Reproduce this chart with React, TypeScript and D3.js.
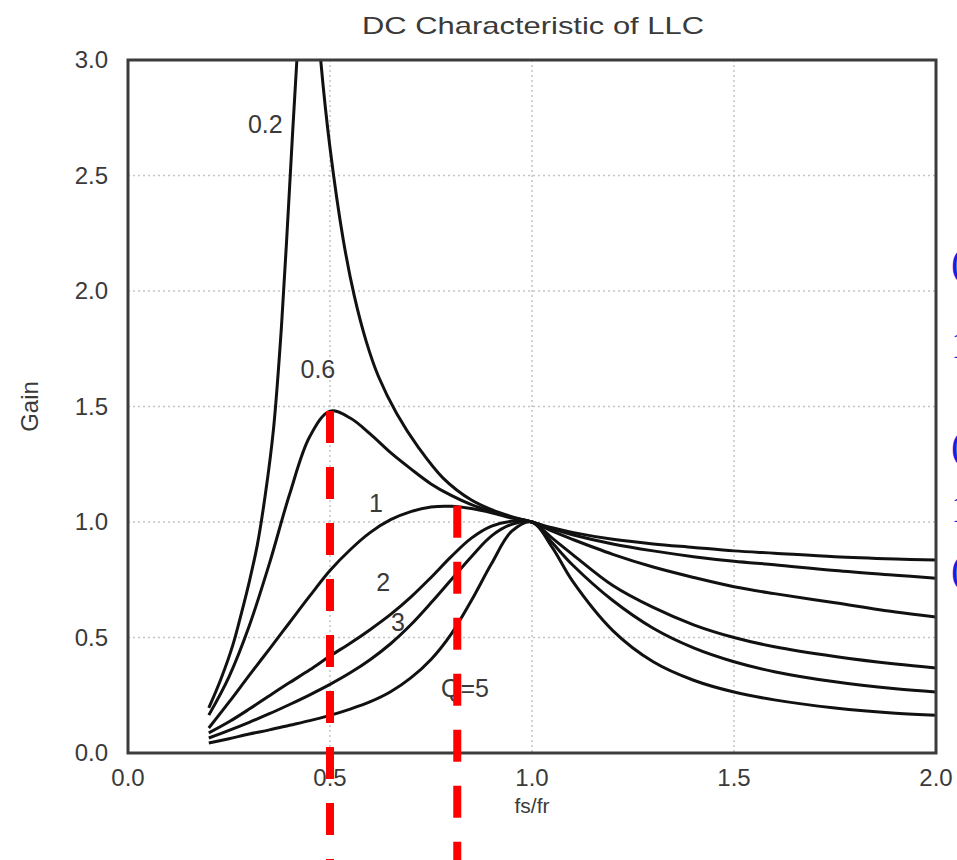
import React from 'react';
import * as d3 from 'd3';

const width = 957;
const height = 860;
const margin = { top: 60, right: 21, bottom: 107, left: 128 };

const xTicks = [0, 0.5, 1.0, 1.5, 2.0];
const yTicks = [0, 0.5, 1.0, 1.5, 2.0, 2.5, 3.0];
const gridX = [0.5, 1.0, 1.5];
const gridY = [0.5, 1.0, 1.5, 2.0, 2.5];

// [fs/fr, gain], one list per Q
const curveQ02 = [
  [0.2, 0.195], [0.23, 0.32], [0.26, 0.47], [0.28, 0.6], [0.3, 0.74], [0.32, 0.9],
  [0.34, 1.12], [0.36, 1.4], [0.38, 1.85], [0.4, 2.45], [0.418, 3.0], [0.447, 3.7],
  [0.477, 3.0], [0.5, 2.62], [0.533, 2.22], [0.56, 1.98], [0.59, 1.78], [0.62, 1.63],
  [0.665, 1.47], [0.72, 1.32], [0.78, 1.19], [0.85, 1.095], [0.92, 1.04], [1.0, 1.0],
  [1.05, 0.975], [1.1, 0.955], [1.2, 0.925], [1.3, 0.905], [1.4, 0.89], [1.5, 0.875],
  [1.6, 0.865], [1.75, 0.85], [1.9, 0.84], [2.0, 0.835],
];
const curveQ06 = [
  [0.2, 0.164], [0.25, 0.33], [0.3, 0.55], [0.35, 0.82], [0.4, 1.12], [0.45, 1.37],
  [0.5, 1.48], [0.55, 1.45], [0.6, 1.38], [0.65, 1.3], [0.7, 1.23], [0.75, 1.165],
  [0.8, 1.115], [0.85, 1.075], [0.9, 1.045], [0.95, 1.02], [1.0, 1.0],
  [1.05, 0.97], [1.1, 0.945], [1.2, 0.905], [1.3, 0.875], [1.4, 0.85], [1.5, 0.83],
  [1.6, 0.815], [1.75, 0.79], [1.9, 0.77], [2.0, 0.757],
];
const curveQ1 = [
  [0.2, 0.108], [0.25, 0.22], [0.3, 0.336], [0.35, 0.45], [0.4, 0.565], [0.45, 0.68],
  [0.5, 0.79], [0.55, 0.88], [0.6, 0.955], [0.65, 1.01], [0.7, 1.045], [0.75, 1.065],
  [0.8, 1.068], [0.85, 1.058], [0.9, 1.04], [0.95, 1.017], [1.0, 1.0],
  [1.05, 0.96], [1.1, 0.925], [1.2, 0.86], [1.3, 0.805], [1.4, 0.76], [1.5, 0.72],
  [1.6, 0.69], [1.75, 0.65], [1.9, 0.61], [2.0, 0.589],
];
const curveQ2 = [
  [0.2, 0.087], [0.25, 0.135], [0.3, 0.19], [0.35, 0.248], [0.4, 0.305], [0.45, 0.36],
  [0.5, 0.42], [0.55, 0.475], [0.6, 0.535], [0.65, 0.6], [0.7, 0.675], [0.75, 0.76],
  [0.8, 0.85], [0.85, 0.93], [0.9, 0.982], [0.95, 1.003], [1.0, 1.0],
  [1.05, 0.93], [1.1, 0.86], [1.2, 0.725], [1.3, 0.63], [1.4, 0.555], [1.5, 0.5],
  [1.6, 0.46], [1.75, 0.418], [1.9, 0.385], [2.0, 0.368],
];
const curveQ3 = [
  [0.2, 0.065], [0.25, 0.098], [0.3, 0.133], [0.35, 0.17], [0.4, 0.21], [0.45, 0.252],
  [0.5, 0.297], [0.55, 0.347], [0.6, 0.405], [0.65, 0.473], [0.7, 0.555], [0.75, 0.65],
  [0.8, 0.75], [0.85, 0.85], [0.9, 0.94], [0.95, 0.99], [1.0, 1.0],
  [1.05, 0.91], [1.1, 0.815], [1.2, 0.66], [1.3, 0.54], [1.4, 0.455], [1.5, 0.395],
  [1.6, 0.352], [1.75, 0.308], [1.9, 0.278], [2.0, 0.264],
];
const curveQ5 = [
  [0.2, 0.043], [0.25, 0.062], [0.3, 0.082], [0.35, 0.1], [0.4, 0.12], [0.45, 0.14],
  [0.5, 0.163], [0.55, 0.19], [0.6, 0.222], [0.65, 0.265], [0.7, 0.325], [0.75, 0.405],
  [0.8, 0.515], [0.85, 0.66], [0.9, 0.82], [0.95, 0.96], [1.0, 1.0],
  [1.05, 0.89], [1.1, 0.745], [1.2, 0.53], [1.3, 0.395], [1.4, 0.315], [1.5, 0.264],
  [1.6, 0.23], [1.75, 0.195], [1.9, 0.172], [2.0, 0.163],
];

const qLabels = ['0.2', '0.6', '1', '2', '3', 'Q=5'];

// red dashed markers: fs/fr and the gain where they start
const markerFs = [0.5, 0.815];
const markerGain = [1.48, 1.07];

// cut-off blue text at the right edge
const sideText = ['(', '1', '(', '1', '('];

const font = '"Liberation Sans", Arial, Helvetica, sans-serif';
const textColor = '#3a3a3a';

export default function App() {
  const x = d3.scaleLinear().domain([0, 2]).range([margin.left, width - margin.right]);
  const y = d3.scaleLinear().domain([0, 3]).range([height - margin.bottom, margin.top]);

  const line = d3.line<number[]>()
    .x(d => x(d[0]))
    .y(d => y(d[1]))
    .curve(d3.curveCatmullRom.alpha(0.5));

  const curves = [curveQ02, curveQ06, curveQ1, curveQ2, curveQ3, curveQ5];
  // label spots in data units, next to each curve
  const labelAt = [[0.34, 2.72], [0.47, 1.66], [0.614, 1.08], [0.632, 0.74], [0.668, 0.565], [0.834, 0.28]];
  const sideY = [276, 358, 459, 522, 583];

  const x0 = x(0), x1 = x(2), y0 = y(0), y1 = y(3);

  return (
    <svg width={width} height={height} style={{ position: 'absolute', left: 0, top: 0, background: '#fff' }}>
      <defs>
        <clipPath id="plot">
          <rect x={x0} y={y1} width={x1 - x0} height={y0 - y1} />
        </clipPath>
      </defs>
      <rect width={width} height={height} fill="#fff" />

      {/* grid */}
      <g stroke="#c4c4c4" strokeWidth={1.5} strokeDasharray="2 3">
        {gridX.map(v => <line key={'gx' + v} x1={x(v)} x2={x(v)} y1={y1} y2={y0} />)}
        {gridY.map(v => <line key={'gy' + v} x1={x0} x2={x1} y1={y(v)} y2={y(v)} />)}
      </g>

      {/* curves */}
      <g clipPath="url(#plot)" fill="none" stroke="#111" strokeWidth={3} strokeLinejoin="round">
        {curves.map((c, i) => <path key={i} d={line(c) || ''} />)}
      </g>

      {/* frame */}
      <rect x={x0} y={y1} width={x1 - x0} height={y0 - y1} fill="none" stroke="#3c3c3c" strokeWidth={3} />

      {/* curve labels */}
      <g fontFamily={font} fontSize={25} fill={textColor} textAnchor="middle">
        {qLabels.map((t, i) => (
          <text key={t} x={x(labelAt[i][0])} y={y(labelAt[i][1])} dy="0.35em">{t}</text>
        ))}
      </g>

      {/* red dashed markers */}
      <g stroke="#ff0000" strokeWidth={8} strokeDasharray="32 24">
        {markerFs.map((f, i) => (
          <line key={f} x1={x(f)} x2={x(f)} y1={y(markerGain[i])} y2={height} />
        ))}
      </g>

      {/* axes labels */}
      <g fontFamily={font} fontSize={24} fill={textColor}>
        {xTicks.map(v => (
          <text key={'xt' + v} x={x(v)} y={y0 + 25} dy="0.35em" textAnchor="middle">{v.toFixed(1)}</text>
        ))}
        {yTicks.map(v => (
          <text key={'yt' + v} x={x0 - 20} y={y(v)} dy="0.35em" textAnchor="end">{v.toFixed(1)}</text>
        ))}
        <text x={(x0 + x1) / 2} y={y0 + 53} dy="0.35em" textAnchor="middle" fontSize={21}>fs/fr</text>
        <text transform={`translate(30, ${(y0 + y1) / 2}) rotate(-90)`} dy="0.35em" textAnchor="middle">Gain</text>
      </g>

      {/* title */}
      <text x={533} y={26} dy="0.35em" textAnchor="middle" fontFamily={font} fontSize={24}
        fill={textColor} textLength={342} lengthAdjust="spacingAndGlyphs">DC Characteristic of LLC</text>

      {/* blue text cut by the right edge */}
      <g fontFamily='"Liberation Serif", "Times New Roman", serif' fontSize={40} fill="#1c1ce0">
        {sideText.map((t, i) => (
          <text key={i} x={951} y={sideY[i]}>{t}</text>
        ))}
      </g>
    </svg>
  );
}
